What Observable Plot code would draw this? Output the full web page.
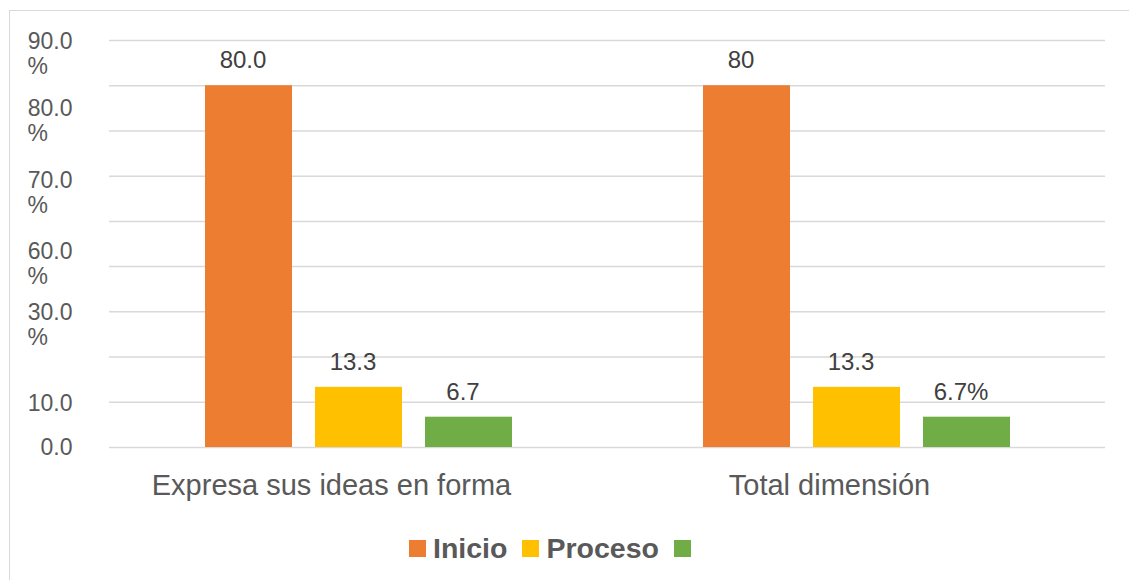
<!DOCTYPE html>
<html>
<head>
<meta charset="utf-8">
<script src="https://cdn.jsdelivr.net/npm/d3@7"></script>
<script src="https://cdn.jsdelivr.net/npm/@observablehq/plot@0.6"></script>
<style>
  html, body { margin: 0; padding: 0; background: #fff; }
  body { font-family: "Liberation Sans", Arial, sans-serif; width: 1129px; height: 580px; overflow: hidden; position: relative; }
  #frame { position: absolute; left: 9px; top: 10px; width: 1140px; height: 600px; border: 1px solid #d9d9d9; box-sizing: border-box; background: #fff; }
  #legend { display: flex; align-items: center; height: 64px; margin-left: 399px; color: #595959; font-weight: bold; font-size: 28.5px; }
  #legend .sw { width: 17px; height: 17px; display: inline-block; margin-right: 7px; }
  #legend .lab { margin-right: 15px; }
  svg { display: block; }
</style>
</head>
<body>
<div id="frame">
  <div id="chart"></div>
  <div id="legend"></div>
</div>
<script>
// ---- data ----
const categories = ["Expresa sus ideas en forma", "Total dimensión"];
const series = ["Inicio", "Proceso", ""];
const colors = ["#ED7D31", "#FFC000", "#70AD47"];
const inicioValues = [80.0, 80.0];
const procesoValues = [13.3, 13.3];
const tercerValues = [6.7, 6.7];
const inicioLabels = ["80.0", "80"];
const procesoLabels = ["13.3", "13.3"];
const tercerLabels = ["6.7", "6.7%"];
const yGrid = [0, 10, 20, 30, 40, 50, 60, 70, 80, 90];
const yTickValues = [89.7, 74.9, 59, 43.3, 29.9, 9.8, 0];
const yTickLabels = ["90.0", "80.0", "70.0", "60.0", "30.0", "10.0", "0.0"];
const yTickUnits = ["%", "%", "%", "%", "%", "", ""];

// ---- table built from arrays ----
const seriesValues = [inicioValues, procesoValues, tercerValues];
const seriesLabels = [inicioLabels, procesoLabels, tercerLabels];
const rows = [];
categories.forEach((c, i) => {
  series.forEach((s, j) => {
    rows.push({category: c, series: s, value: seriesValues[j][i], label: seriesLabels[j][i]});
  });
});
const ticks = yTickLabels.map((t, i) => ({value: yTickValues[i], label: t, unit: yTickUnits[i]}));

const chart = Plot.plot({
  width: 1119,
  height: 505,
  marginLeft: 99,
  marginRight: 24,
  marginTop: 29,
  marginBottom: 69,
  style: {fontFamily: "Liberation Sans, Arial, sans-serif", background: "transparent"},
  fx: {domain: categories, padding: 0, axis: null},
  x: {domain: series, paddingInner: 0.213, paddingOuter: 0.86, axis: null},
  y: {domain: [0, 90], axis: null},
  color: {domain: series, range: colors},
  marks: [
    Plot.ruleY(yGrid, {y: d => d, stroke: "#d9d9d9", strokeWidth: 1.5}),
    Plot.barY(rows, {fx: "category", x: "series", y: "value", fill: "series"}),
    Plot.text(rows, {fx: "category", x: "series", y: "value", text: "label", dy: -25, dx: -6, fontSize: 24, fill: "#404040"}),
    Plot.axisFx({anchor: "bottom", tickSize: 0, tickPadding: 27, fontSize: 29, fill: "#595959", label: null, dx: -27}),
    Plot.text(ticks, {fx: () => categories[0], y: "value", text: "label", frameAnchor: "left", textAnchor: "end", dx: -37, fontSize: 23, fill: "#595959"}),
    Plot.text(ticks, {fx: () => categories[0], y: "value", text: "unit", frameAnchor: "left", textAnchor: "start", dx: -82, dy: 25, fontSize: 23, fill: "#595959"})
  ]
});
document.getElementById("chart").appendChild(chart);

// ---- legend ----
const legend = d3.select("#legend");
series.forEach((s, i) => {
  legend.append("span").attr("class", "sw").style("background", colors[i]);
  if (s) legend.append("span").attr("class", "lab").text(s);
});
</script>
</body>
</html>
